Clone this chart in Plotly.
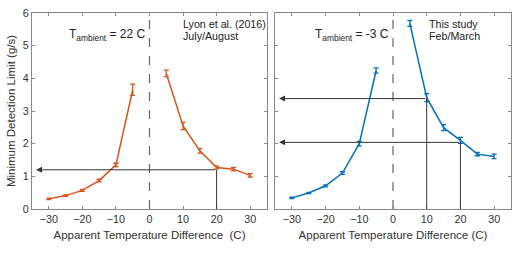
import plotly.graph_objects as go

# Data
temp_diff = [-30, -25, -20, -15, -10, -5, 5, 10, 15, 20, 25, 30]
lyon_mdl = [0.31, 0.41, 0.57, 0.87, 1.35, 3.65, 4.15, 2.54, 1.78, 1.27, 1.22, 1.03]
lyon_err = [0.02, 0.02, 0.03, 0.04, 0.05, 0.17, 0.10, 0.11, 0.07, 0.04, 0.05, 0.05]
study_mdl = [0.34, 0.49, 0.71, 1.10, 2.00, 4.24, 5.68, 3.41, 2.49, 2.10, 1.68, 1.61]
study_err = [0.02, 0.02, 0.03, 0.04, 0.07, 0.08, 0.09, 0.12, 0.09, 0.09, 0.05, 0.07]

lyon_ref_x = [20]
lyon_ref_y = [1.2]
study_ref_x = [10, 20]
study_ref_y = [3.38, 2.04]

x_ticks = [-30, -20, -10, 0, 10, 20, 30]
y_ticks = [0, 1, 2, 3, 4, 5, 6]

ORANGE = "#D95319"
BLUE = "#0072BD"
FONT = "Liberation Sans, Arial, sans-serif"

fig = go.Figure()

def add_series(x, y, e, color, xa, ya):
    n = len(x)
    neg = [i for i in range(n) if x[i] < 0]
    pos = [i for i in range(n) if x[i] > 0]
    for idx in (neg, pos):
        fig.add_trace(go.Scatter(
            x=[x[i] for i in idx], y=[y[i] for i in idx],
            error_y=dict(type="data", array=[e[i] for i in idx], color=color, thickness=1.3, width=2.5),
            mode="lines", line=dict(color=color, width=1.5),
            xaxis=xa, yaxis=ya, showlegend=False, hoverinfo="skip"))

add_series(temp_diff, lyon_mdl, lyon_err, ORANGE, "x", "y")
add_series(temp_diff, study_mdl, study_err, BLUE, "x2", "y2")

shapes = []
annotations = []
ARROW = "#333333"
for xa, ya, rx, ry in (("x", "y", lyon_ref_x, lyon_ref_y), ("x2", "y2", study_ref_x, study_ref_y)):
    shapes.append(dict(type="line", xref=xa, yref=ya, x0=0, x1=0, y0=0, y1=6,
                       line=dict(color="#666666", width=1.2, dash="dash")))
    for vx, vy in zip(rx, ry):
        shapes.append(dict(type="line", xref=xa, yref=ya, x0=vx, x1=vx, y0=0, y1=vy,
                           line=dict(color=ARROW, width=1)))
        annotations.append(dict(xref=xa, yref=ya, axref=xa, ayref=ya, x=-33.8, y=vy, ax=vx, ay=vy,
                                text="", showarrow=True, arrowhead=2, arrowsize=1.2, arrowwidth=1,
                                arrowcolor=ARROW))

txt = dict(size=10.7, color="#222222", family=FONT)
tamb = dict(size=12, color="#222222", family=FONT)
annotations += [
    dict(xref="x", yref="y", x=-0.7, y=5.33, text="T<sub>ambient</sub> = 22 C", showarrow=False,
         xanchor="right", yanchor="middle", font=tamb),
    dict(xref="x", yref="y", x=9.3, y=5.66, text="Lyon et al. (2016)", showarrow=False,
         xanchor="left", yanchor="middle", font=txt),
    dict(xref="x", yref="y", x=9.3, y=5.3, text="July/August", showarrow=False,
         xanchor="left", yanchor="middle", font=txt),
    dict(xref="x2", yref="y2", x=-0.7, y=5.33, text="T<sub>ambient</sub> = -3 C", showarrow=False,
         xanchor="right", yanchor="middle", font=tamb),
    dict(xref="x2", yref="y2", x=10, y=5.66, text="This study", showarrow=False,
         xanchor="left", yanchor="middle", font=txt),
    dict(xref="x2", yref="y2", x=10, y=5.3, text="Feb/March", showarrow=False,
         xanchor="left", yanchor="middle", font=txt),
]

axis_common = dict(showline=True, linecolor="#888888", linewidth=1.3, mirror="ticks",
                   ticks="inside", ticklen=3, tickcolor="#888888", showgrid=False, zeroline=False,
                   automargin=False,
                   tickfont=dict(size=10.8, color="#333333", family=FONT))

# body margin is removed below, so the figure fills the 520x253 window
W, H = 520, 253
xdom1 = [32 / W, 267 / W]
xdom2 = [275 / W, 511 / W]
ydom = [1 - 209 / H, 1 - 13 / H]

title_font = dict(size=11.5, color="#333333", family=FONT)

fig.update_layout(
    width=W, height=H,
    margin=dict(l=0, r=0, t=0, b=0, autoexpand=False),
    paper_bgcolor="white", plot_bgcolor="white",
    xaxis=dict(domain=xdom1, range=[-35, 35], tickvals=x_ticks, anchor="y",
               title=dict(text="Apparent Temperature Difference  (C)", font=title_font, standoff=6),
               **axis_common),
    yaxis=dict(domain=ydom, range=[0, 6], tickvals=y_ticks, anchor="x",
               title=dict(text="Minimum Detection Limit (g/s)", font=title_font, standoff=4),
               **axis_common),
    xaxis2=dict(domain=xdom2, range=[-35, 35], tickvals=x_ticks, anchor="y2",
                title=dict(text="Apparent Temperature Difference (C)", font=title_font, standoff=6),
                **axis_common),
    yaxis2=dict(domain=ydom, range=[0, 6], tickvals=y_ticks, anchor="x2", showticklabels=False,
                **axis_common),
    shapes=shapes, annotations=annotations,
)

fig.write_html("out.html", config={"displayModeBar": False},
               post_script="document.body.style.margin='0';")
